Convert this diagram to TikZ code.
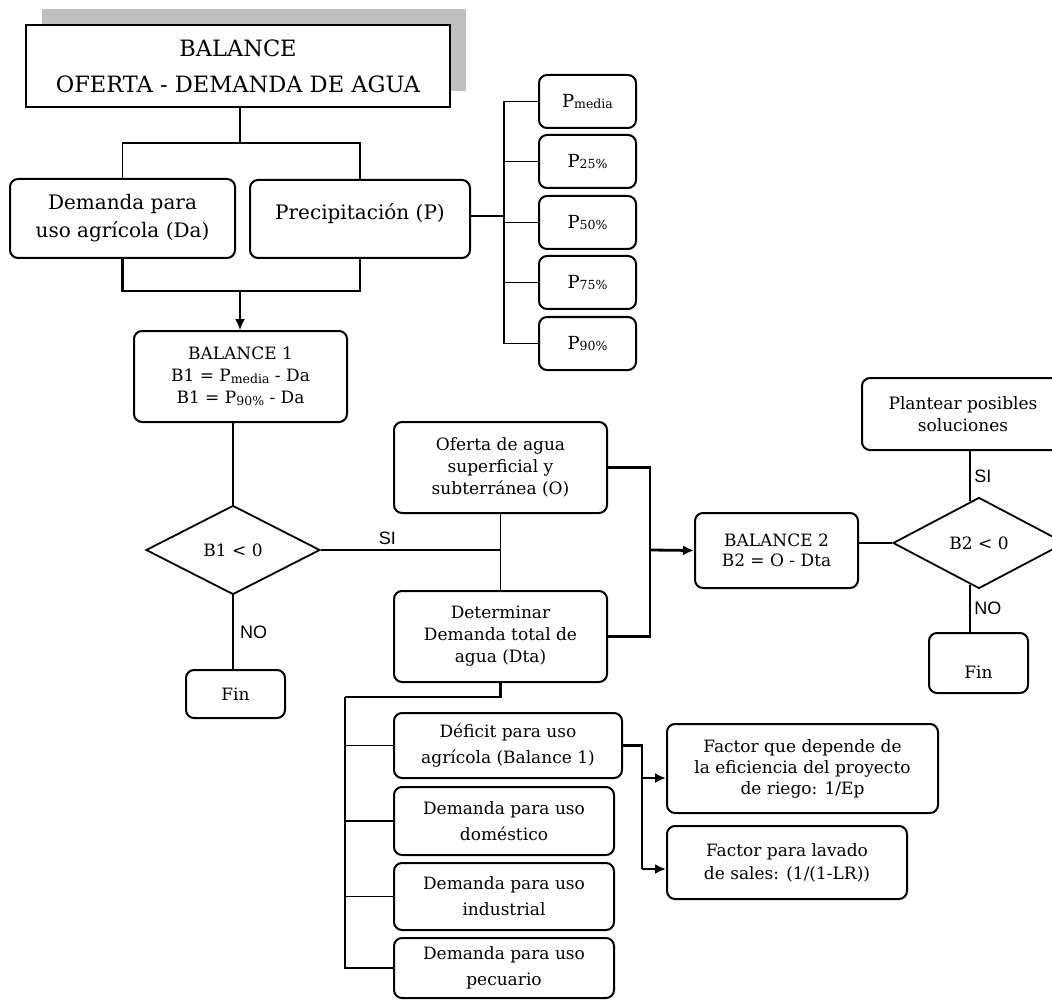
\documentclass[tikz,border=0pt]{standalone}
\usepackage{fontspec}
\setmainfont{DejaVu Serif}
\newfontfamily\lblfont{Liberation Sans}
\usetikzlibrary{shapes.geometric,arrows.meta}
\definecolor{shadowgrey}{HTML}{C0C0C0}
% P with a small lowered index
\newcommand\Psub[1]{P{\fontsize{12.5}{12.5}\selectfont\raisebox{-1.5pt}{#1}}}

\begin{document}
\begin{tikzpicture}[x=1pt,y=-1pt,
  box/.style={draw, line width=2pt, rounded corners=8pt, fill=white, inner sep=0pt, align=center},
  link/.style={line width=1.8pt},
  heavy/.style={line width=2.8pt},
  tip/.style={-{Latex[length=11pt,width=10pt]}},
  decision/.style={draw, diamond, line width=1.8pt, inner sep=0pt, fill=white},
  answer/.style={font=\lblfont\fontsize{18}{18}\selectfont},
  big/.style={font=\fontsize{20}{28}\selectfont},
  mid/.style={font=\fontsize{17}{22}\selectfont},
  wide/.style={font=\fontsize{17}{26}\selectfont},
  pfont/.style={font=\fontsize{18}{20}\selectfont},
]
\useasboundingbox (0,0) rectangle (1052,1000);
\fill[white] (0,0) rectangle (1052,1000);
\clip (0,0) rectangle (1052,1000);

% title with its grey offset shadow
\fill[shadowgrey] (42,9) rectangle (466,91);
\node[draw, line width=2.5pt, fill=white, inner sep=0pt, align=center,
      minimum width=424pt, minimum height=82pt,
      font=\fontsize{22.5}{36}\selectfont] (title) at (238,66)
      {BALANCE\\OFERTA - DEMANDA DE AGUA};

% first level
\node[box, big, minimum width=225pt, minimum height=79pt] (da) at (122.5,218.5)
      {Demanda para\\uso agrícola (Da)};
\node[box, big, minimum width=220pt, minimum height=78pt, text depth=14pt] (pr) at (360,219)
      {Precipitación (P)};

% precipitation series
\node[box, pfont, minimum width=97pt, minimum height=53pt] (pm)  at (587.5,101.5) {\Psub{media}};
\node[box, pfont, minimum width=97pt, minimum height=53pt] (p25) at (587.5,161.5) {\Psub{25\%}};
\node[box, pfont, minimum width=97pt, minimum height=53pt] (p50) at (587.5,222.5) {\Psub{50\%}};
\node[box, pfont, minimum width=97pt, minimum height=53pt] (p75) at (587.5,282.5) {\Psub{75\%}};
\node[box, pfont, minimum width=97pt, minimum height=53pt] (p90) at (587.5,343.5) {\Psub{90\%}};

% balance 1 and its decision
\node[box, mid, minimum width=213pt, minimum height=91pt] (b1) at (240.5,376.5)
      {BALANCE 1\\B1 = \Psub{media} - Da\\B1 = \Psub{90\%} - Da};
\node[decision, mid, minimum width=174pt, minimum height=89pt] (d1) at (233,550) {B1 < 0};
\node[box, mid, minimum width=99pt, minimum height=48pt] (fin1) at (235.5,694) {Fin};

% supply and total demand
\node[box, mid, minimum width=213pt, minimum height=91pt] (of) at (500.5,467.5)
      {Oferta de agua\\superficial y\\subterránea (O)};
\node[box, mid, minimum width=213pt, minimum height=91pt] (dt) at (500.5,636.5)
      {Determinar\\Demanda total de\\agua (Dta)};

% balance 2 and its decision
\node[box, font=\fontsize{17}{20}\selectfont, minimum width=163pt, minimum height=75pt] (b2) at (776.5,550.5)
      {BALANCE 2\\B2 = O - Dta};
\node[decision, mid, minimum width=172pt, minimum height=91pt] (d2) at (979,543) {B2 < 0};
\node[box, mid, minimum width=202pt, minimum height=72pt] (pl) at (963,414)
      {Plantear posibles\\soluciones};
\node[box, mid, minimum width=99pt, minimum height=60pt, text height=30pt] (fin2) at (978.5,663) {Fin};

% components of the total demand
\node[box, wide, minimum width=228pt, minimum height=65pt] (df)  at (508,745.5)
      {Déficit para uso\\agrícola (Balance 1)};
\node[box, wide, minimum width=220pt, minimum height=68pt] (dom) at (504,821)
      {Demanda para uso\\doméstico};
\node[box, wide, minimum width=220pt, minimum height=67pt] (ind) at (504,896.5)
      {Demanda para uso\\industrial};
\node[box, wide, minimum width=220pt, minimum height=60pt] (pe)  at (504,968)
      {Demanda para uso\\pecuario};

% correction factors
\node[box, font=\fontsize{17}{21}\selectfont, minimum width=271pt, minimum height=89pt] (f1) at (802.5,768.5)
      {Factor que depende de\\la eficiencia del proyecto\\de riego: 1/Ep};
\node[box, font=\fontsize{17}{23}\selectfont, minimum width=240pt, minimum height=73pt] (f2) at (787,862.5)
      {Factor para lavado\\de sales: (1/(1-LR))};

% title splits into demand and precipitation
\coordinate (j1) at (240,143);
\draw[link] (title.south -| j1) -- (j1);
\draw[link] (da.north) |- (j1) -| (pr.north);

% both merge into balance 1
\coordinate (j2) at (240,291);
\draw[heavy] (da.south) |- (j2) -| (pr.south);
\draw[link, tip] (j2) -- (j2 |- b1.north);

% precipitation bus
\coordinate (bus) at (504,216);
\draw[heavy] (pr.east |- bus) -- (bus);
\draw[link] (pm.west) -| (bus) |- (p90.west);
\draw[link] (p25.west) -- (p25.west -| bus);
\draw[link] (p50.west) -- (p50.west -| bus);
\draw[link] (p75.west) -- (p75.west -| bus);

% first decision
\draw[link] (d1.north) -- (d1.north |- b1.south);
\draw[link] (d1.east) -- (d1.east -| of.south)
      node[answer, pos=0.37, above, yshift=1pt] {SI};
\draw[link] (of.south) -- (dt.north);
\draw[link] (d1.south) -- (d1.south |- fin1.north)
      node[answer, midway, right, xshift=3pt] {NO};

% supply and demand feed balance 2
\coordinate (j3) at (650,550);
\draw[heavy] (of.east) -| (j3) |- (dt.east);
\draw[heavy, tip] (j3) -- (b2.west);
\draw[link] (b2.east |- d2.west) -- (d2.west);

% second decision
\draw[link] (d2.102) -- (d2.102 |- pl.south)
      node[answer, midway, right] {SI};
\draw[link] (d2.-102) -- (d2.-102 |- fin2.north)
      node[answer, midway, right] {NO};

% demand components bus
\coordinate (j5) at (345,697);
\draw[heavy] (dt.south) |- (j5);
\draw[link] (j5) |- (pe.west);
\draw[link] (df.west -| j5) -- (df.west);
\draw[link] (dom.west -| j5) -- (dom.west);
\draw[link] (ind.west -| j5) -- (ind.west);

% agricultural deficit factors
\coordinate (j6) at (642,778);
\coordinate (j7) at (642,869);
\draw[heavy] (df.east) -| (j6) -- (j7);
\draw[heavy, tip] (j6) -- (j6 -| f1.west);
\draw[heavy, tip] (j7) -- (j7 -| f2.west);
\end{tikzpicture}
\end{document}
